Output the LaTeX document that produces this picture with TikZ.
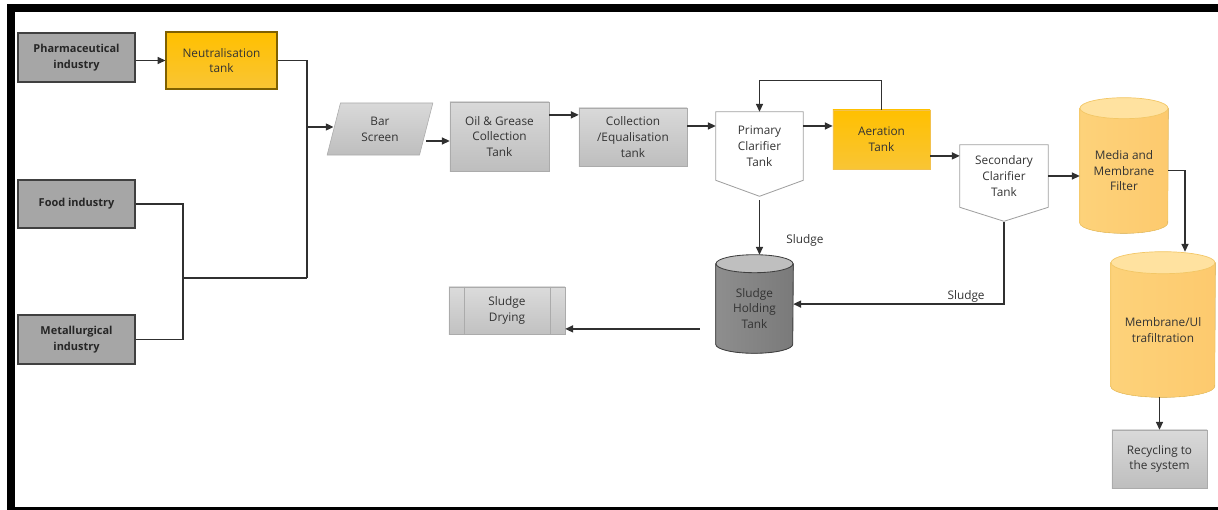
\documentclass[tikz,border=0pt]{standalone}
\usepackage{fontspec}
\setmainfont{Open Sans}
\usetikzlibrary{arrows.meta,calc,shapes.geometric,backgrounds}

\definecolor{txt}{HTML}{333333}
\definecolor{indfill}{HTML}{A6A6A6}
\definecolor{inddraw}{HTML}{404040}
\definecolor{procA}{HTML}{D9D9D9}
\definecolor{procB}{HTML}{BEBEBE}
\definecolor{procdraw}{HTML}{ABABAB}
\definecolor{goldA}{HTML}{FFC000}
\definecolor{goldB}{HTML}{F9C535}
\definecolor{golddraw}{HTML}{7F6000}
\definecolor{aerdraw}{HTML}{F2C14E}
\definecolor{clardraw}{HTML}{A0A0A0}
\definecolor{tankA}{HTML}{FDD27A}
\definecolor{tankB}{HTML}{FFE2A0}
\definecolor{tankdraw}{HTML}{F3C766}
\definecolor{holdA}{HTML}{7A7A7A}
\definecolor{holdB}{HTML}{BFBFBF}
\definecolor{holddraw}{HTML}{3F3F3F}
\definecolor{wirec}{HTML}{303030}

\tikzset{
  base/.style={align=center, text=txt, font=\fontsize{8.4}{11.2}\selectfont, inner sep=1pt},
  indbox/.style={base, draw=inddraw, fill=indfill, line width=0.8pt, minimum width=2.925cm,
    text=black!85, font=\fontsize{7.8}{11.4}\selectfont\bfseries},
  procbox/.style={base, draw=procdraw, top color=procA, bottom color=procB},
  goldbox/.style={base, top color=goldA, bottom color=goldB},
  clarline/.style={draw=clardraw, line width=0.6pt},
  tankbody/.style={draw=tankdraw, line width=0.5pt, left color=tankA, right color=tankA!90!orange},
  tanktop/.style={draw=tankdraw, line width=0.5pt, fill=tankB},
  wire/.style={draw=wirec, line width=0.9pt},
  flow/.style={wire, -{Triangle[length=5.5pt,width=5pt]}},
}

\begin{document}
\begin{tikzpicture}[x=0.025cm, y=-0.025cm]
\useasboundingbox (0,0) rectangle (1218,510);
\clip (0,0) rectangle (1218,510);
\draw[line width=5pt] (11,8) rectangle (1240,510.5);

% sources
\node[indbox, minimum height=1.225cm] (pharma) at (76.5,57.5) {Pharmaceutical\\industry};
\node[goldbox, draw=golddraw, line width=0.8pt, minimum width=2.775cm, minimum height=1.425cm] (neut) at (221.5,60.5) {Neutralisation\\tank};
\node[indbox, minimum height=1.2cm] (food) at (76.5,204) {Food industry};
\node[indbox, minimum height=1.225cm] (metal) at (76.5,339.5) {Metallurgical\\industry};

% treatment line
\node[procbox, trapezium, trapezium left angle=76, trapezium right angle=104, trapezium stretches=true,
  minimum width=2.65cm, minimum height=1.3cm] (bar) at (380,129) {Bar\\Screen};
\node[procbox, minimum width=2.475cm, minimum height=1.725cm] (oil) at (499.5,136.5) {Oil \& Grease\\Collection\\Tank};
\node[procbox, minimum width=2.7cm, minimum height=1.45cm] (coll) at (633,137) {Collection\\/Equalisation\\tank};
\node[base, minimum width=2.175cm, minimum height=1.7cm] (prim) at (759.5,146) {Primary\\Clarifier\\Tank};
\node[goldbox, draw=aerdraw, line width=0.5pt, minimum width=2.425cm, minimum height=1.475cm] (aer) at (881.5,139.5) {Aeration\\Tank};
\node[base, minimum width=2.2cm, minimum height=1.55cm] (sec) at (1004,176) {Secondary\\Clarifier\\Tank};
\node[base, minimum width=2.2cm, minimum height=3.1125cm] (media) at (1124,170.75) {Media and\\Membrane\\Filter};
\node[base, minimum width=2.6cm, minimum height=3.35cm] (mem) at (1163,330) {Membrane/Ul\\trafiltration};
\node[procbox, minimum width=2.375cm, minimum height=1.45cm] (rec) at (1159.5,459) {Recycling to\\the system};

% sludge line
\node[base, minimum width=1.925cm, minimum height=2.225cm] (hold) at (754.5,308.5) {Sludge\\Holding\\Tank};
\node[procbox, top color=procA!95, bottom color=procB!95, minimum width=2.9cm, minimum height=1.175cm] (dry) at (507,310.5) {Sludge\\Drying};
\draw[procdraw, line width=0.4pt] ([xshift=0.4cm]dry.north west) -- ([xshift=0.4cm]dry.south west)
  ([xshift=-0.375cm]dry.north east) -- ([xshift=-0.375cm]dry.south east);

% outlines behind the text
\begin{scope}[on background layer]
  \draw[clarline] (prim.north west) -- (prim.north east) -- (prim.south east) -- ([yshift=-0.4cm]prim.south) -- (prim.south west) -- cycle;
  \draw[clarline] (sec.north west) -- (sec.north east) -- (sec.south east) -- ([yshift=-0.35cm]sec.south) -- (sec.south west) -- cycle;
  \filldraw[tankbody] (media.north west) -- ([yshift=0.2625cm]media.south west)
    arc[start angle=180, end angle=360, x radius=1.1cm, y radius=0.2625cm] -- (media.north east) -- cycle;
  \filldraw[tanktop] (media.north) ellipse[x radius=1.1cm, y radius=0.2625cm];
  \filldraw[tankbody] (mem.north west) -- ([yshift=0.275cm]mem.south west)
    arc[start angle=180, end angle=360, x radius=1.3cm, y radius=0.275cm] -- (mem.north east) -- cycle;
  \filldraw[tanktop] (mem.north) ellipse[x radius=1.3cm, y radius=0.275cm];
  \filldraw[draw=holddraw, line width=0.6pt, left color=holdA!85, right color=holdA] (hold.north west) -- ([yshift=0.225cm]hold.south west)
    arc[start angle=180, end angle=360, x radius=0.9625cm, y radius=0.225cm] -- (hold.north east) -- cycle;
  \filldraw[draw=holddraw, line width=0.6pt, fill=holdB] (hold.north) ellipse[x radius=0.9625cm, y radius=0.225cm];
\end{scope}

% joins of the sources
\coordinate (jn) at (307,278);
\coordinate (jf) at (183,278);
\draw[flow] (pharma.east |- neut.west) -- (neut.west);
\draw[wire] (neut.east) -| (jn);
\draw[wire] (food.east) -| (jf) |- (metal.east);
\draw[wire] (jf) -- (jn);
\draw[flow] (jn |- 0,127) -- (bar.west |- 0,127);

% flow arrows
\coordinate (bo) at ([yshift=-0.3cm]bar.east);
\draw[flow] (bo) -- (bo -| oil.west);
\coordinate (oc) at ([yshift=0.54cm]oil.east);
\draw[flow] (oc) -- (oc -| coll.west);
\coordinate (cp) at ([yshift=0.275cm]coll.east);
\draw[flow] (cp) -- (cp -| prim.west);
\coordinate (pa) at ([yshift=0.5cm]prim.east);
\draw[flow] (pa) -- (pa -| aer.west);
\draw[flow] (aer.north) -- ++(0,-29) -| (prim.north);
\coordinate (as) at ([yshift=-0.41cm]aer.east);
\draw[flow] (as) -- (as -| sec.west);
\draw[flow] (sec.east) -- (sec.east -| media.west);
\draw[flow] (media.east) -| ([xshift=0.55cm,yshift=0.275cm]mem.north);
\draw[flow] (mem.south -| rec.north) -- (rec.north);

% sludge arrows
\coordinate (ph) at ([yshift=-0.5cm]prim.south);
\draw[flow] (ph) -- ([yshift=0.225cm]ph |- hold.north) node[base, pos=0.74, right=0.62cm] {Sludge};
\draw[flow] ([yshift=-0.37cm]sec.south) |- ([yshift=0.11cm]hold.east) node[base, pos=0.59, above] {Sludge};
\coordinate (hd) at ([xshift=-0.4cm,yshift=-0.51cm]hold.west);
\draw[flow] (hd) -- (hd -| dry.east);
\end{tikzpicture}
\end{document}
